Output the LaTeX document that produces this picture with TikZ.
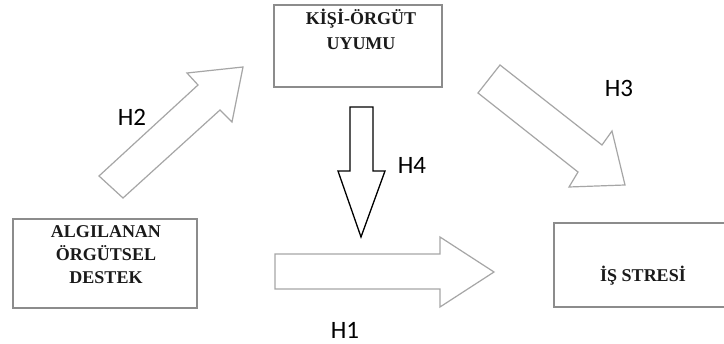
\documentclass[tikz,border=0pt]{standalone}
\usepackage{fontspec}
\setmainfont{Liberation Serif}
\newfontfamily\labelfont{Carlito}
\definecolor{boxgray}{HTML}{8C8C8C}
\definecolor{arrowgray}{HTML}{A6A6A6}
\definecolor{txtdark}{HTML}{1A1A1A}
\begin{document}
\begin{tikzpicture}[x=1pt,y=-1pt,
  boxline/.style={draw=boxgray,line width=1.6pt},
  boxtext/.style={font=\bfseries\fontsize{18}{23}\selectfont,text=txtdark,align=center,inner sep=0pt},
  blockarrow/.style={draw=arrowgray,line width=1.2pt,fill=white,line join=miter},
  blackarrow/.style={draw=black,line width=1.3pt,fill=white,line join=miter},
  hlabel/.style={font=\labelfont\fontsize{25}{28}\selectfont,text=black,inner sep=0pt}]
\useasboundingbox[fill=white] (0,0) rectangle (724,344);

% boxes
\node[boxline,minimum width=184pt,minimum height=89pt,inner sep=0pt] (destekbox) at (105,263.5) {};
\node[boxtext] (destek) at (106,255) {ALGILANAN\\ÖRGÜTSEL\\DESTEK};

\node[boxline,minimum width=168pt,minimum height=82pt,inner sep=0pt] (uyumbox) at (358,46) {};
\node[boxtext,font=\bfseries\fontsize{18}{25}\selectfont] (uyum) at (361,29.5) {KİŞİ-ÖRGÜT\\UYUMU};

\coordinate (stresNE) at (724,223);
\coordinate (stresSE) at (724,307);
\draw[boxline] (stresNE) -| (554,307) -- (stresSE);
\node[boxtext] (stres) at (643,276) {İŞ STRESİ};

% block arrows
\draw[blockarrow] (99,176) -- (198,85) -- (187,73) -- (243,67) -- (232,122) -- (220,110) -- (123,198) -- cycle;
\draw[blockarrow] (500,65) -- (602,145) -- (612,131) -- (625,185) -- (569,187) -- (578,172) -- (478,93) -- cycle;
\draw[blockarrow] (275,254) -- (440,254) -- (440,237) -- (494,272) -- (440,307) -- (440,289) -- (275,289) -- cycle;
\draw[blackarrow] (350,107) -- (373,107) -- (373,171) -- (385,171) -- (361,237) -- (338,171) -- (350,171) -- cycle;

% labels
\node[hlabel] (h1) at (345,330) {H1};
\node[hlabel] (h2) at (132,117) {H2};
\node[hlabel] (h3) at (619,88) {H3};
\node[hlabel] (h4) at (412,165) {H4};
\end{tikzpicture}
\end{document}
